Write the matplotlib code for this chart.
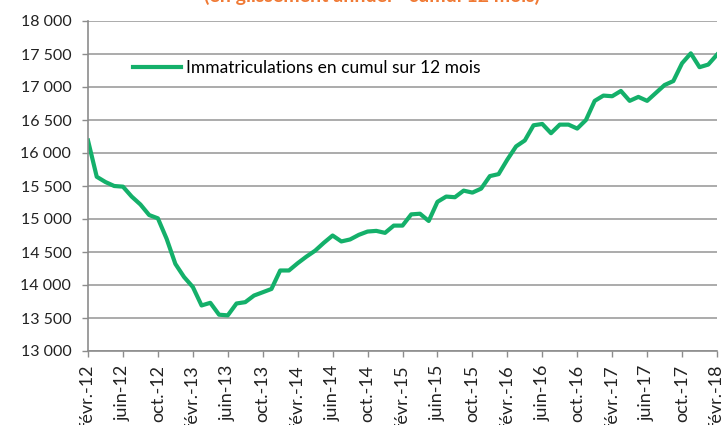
import matplotlib
matplotlib.use("Agg")
import matplotlib.pyplot as plt

plt.rcParams['font.family'] = ['Lato', 'DejaVu Sans']

# monthly values, févr. 2012 -> févr. 2018
values = [16190, 15640, 15560, 15500, 15490, 15340, 15220, 15060, 15010, 14700,
          14320, 14120, 13970, 13690, 13730, 13550, 13540, 13720, 13740, 13840,
          13890, 13940, 14220, 14220, 14330, 14430, 14520, 14640, 14750, 14660,
          14690, 14760, 14810, 14820, 14790, 14900, 14900, 15070, 15080, 14970,
          15260, 15340, 15330, 15430, 15400, 15460, 15650, 15680, 15900, 16100,
          16190, 16420, 16440, 16300, 16430, 16430, 16370, 16500, 16790, 16870,
          16860, 16940, 16790, 16850, 16790, 16910, 17030, 17090, 17360, 17510,
          17300, 17340, 17490]
months = list(range(len(values)))

tick_labels = ['févr.-12', 'juin-12', 'oct.-12', 'févr.-13', 'juin-13', 'oct.-13',
               'févr.-14', 'juin-14', 'oct.-14', 'févr.-15', 'juin-15', 'oct.-15',
               'févr.-16', 'juin-16', 'oct.-16', 'févr.-17', 'juin-17', 'oct.-17',
               'févr.-18']
yticks = list(range(13000, 18001, 500))

fig = plt.figure(figsize=(7.21, 4.25), dpi=100)
ax = fig.add_axes([88 / 721, 1 - 351 / 425, 629 / 721, 330 / 425])

ax.plot(months, values, color='#14B06A', lw=3,
        label='Immatriculations en cumul sur 12 mois')

ax.set_xlim(0, 72)
ax.set_ylim(13000, 18000)
ax.set_xticks(range(0, 73, 4))
ax.set_xticklabels(tick_labels, rotation=90, fontsize=13, color='#222222')
ax.set_yticks(yticks)
ax.set_yticklabels([f"{v:,}".replace(',', ' ') for v in yticks],
                   fontsize=11.5, color='#222222')

ax.grid(axis='y', color='#ABABAB', lw=1.4)
ax.set_axisbelow(True)
for s in ['top', 'right']:
    ax.spines[s].set_visible(False)
for s in ['left', 'bottom']:
    ax.spines[s].set_color('#8C8C8C')
    ax.spines[s].set_linewidth(1.2)
ax.tick_params(axis='both', color='#8C8C8C', length=4, width=1)
ax.tick_params(axis='y', pad=8)
ax.tick_params(axis='x', pad=6)

ax.legend(frameon=False, loc='center left', bbox_to_anchor=(0.046, 0.858),
          handlelength=2.8, handletextpad=0.3, fontsize=12.5)

fig.text(372 / 721, 1 + 4 / 425, '(en glissement annuel - cumul 12 mois)',
         ha='center', va='center', fontsize=14, fontweight='bold',
         color='#F07A35')

fig.savefig('out.png', dpi=100)
